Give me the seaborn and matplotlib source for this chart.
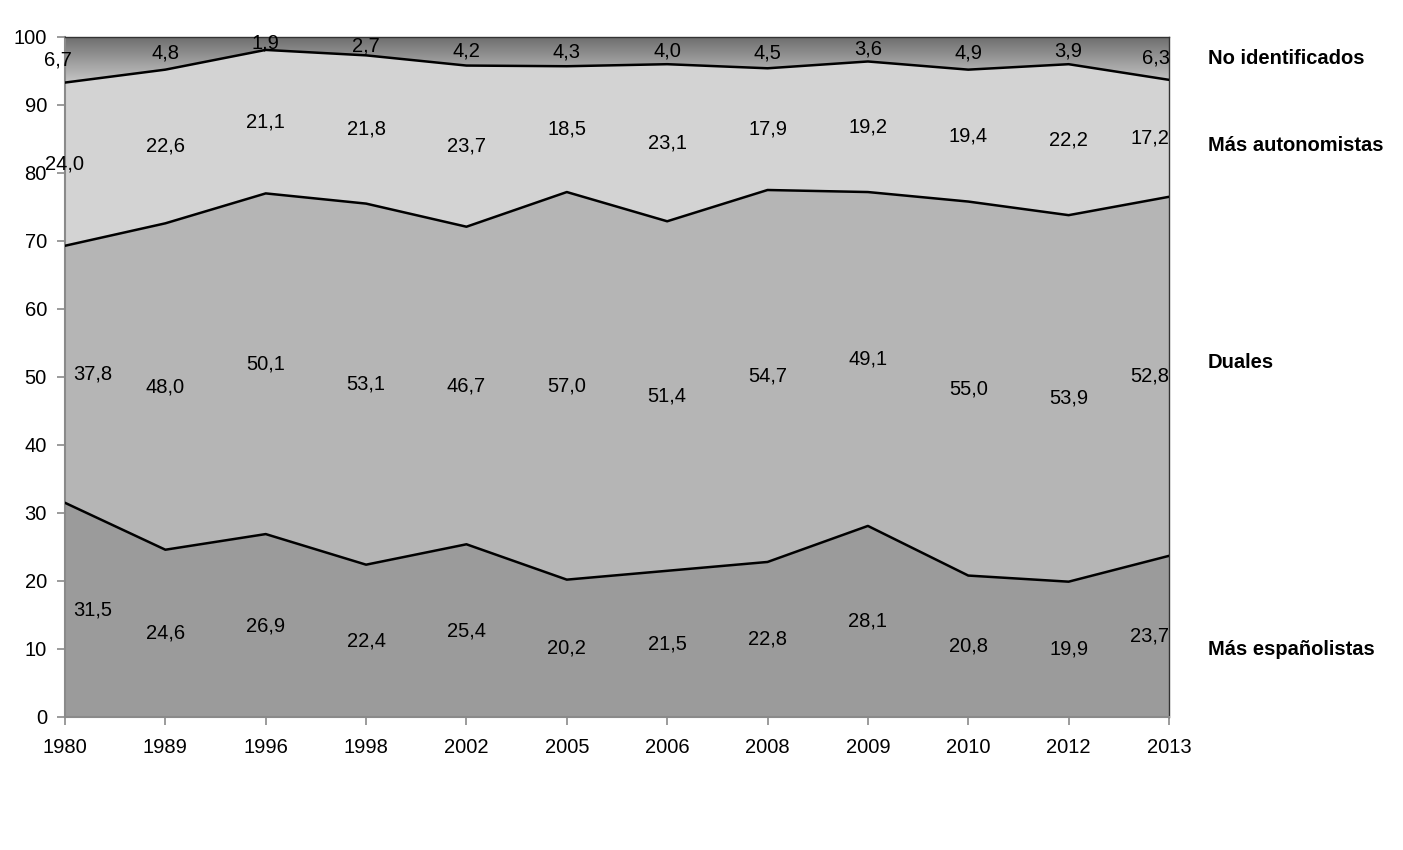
import numpy as np
import pandas as pd
import seaborn as sns
import matplotlib.pyplot as plt
from matplotlib.colors import LinearSegmentedColormap

years = ["1980", "1989", "1996", "1998", "2002", "2005", "2006", "2008", "2009", "2010", "2012", "2013"]
espanolistas = [31.5, 24.6, 26.9, 22.4, 25.4, 20.2, 21.5, 22.8, 28.1, 20.8, 19.9, 23.7]
duales = [37.8, 48.0, 50.1, 53.1, 46.7, 57.0, 51.4, 54.7, 49.1, 55.0, 53.9, 52.8]
autonomistas = [24.0, 22.6, 21.1, 21.8, 23.7, 18.5, 23.1, 17.9, 19.2, 19.4, 22.2, 17.2]
no_ident = [6.7, 4.8, 1.9, 2.7, 4.2, 4.3, 4.0, 4.5, 3.6, 4.9, 3.9, 6.3]
series_names = ["Más españolistas", "Duales", "Más autonomistas", "No identificados"]

sns.set_style("white")
plt.rcParams["font.family"] = ["Liberation Sans", "DejaVu Sans"]
plt.rcParams["text.color"] = "black"
plt.rcParams["xtick.labelcolor"] = "black"
plt.rcParams["ytick.labelcolor"] = "black"

x = np.arange(len(years))
series = [espanolistas, duales, autonomistas, no_ident]
cum = np.cumsum(np.array(series), axis=0)

fig = plt.figure(figsize=(14.03, 8.5), dpi=100)
ax = fig.add_axes([65 / 1403, 1 - 717 / 850, 1104 / 1403, 680 / 850])

polys = ax.stackplot(x, *series, colors=["#9b9b9b", "#b5b5b5", "#d3d3d3", "none"], linewidth=0)

# gradient for top band
cmap = LinearSegmentedColormap.from_list("g", ["#6c6c6c", "#e4e4e4"])
grad = np.linspace(0, 1, 256).reshape(-1, 1)
im = ax.imshow(grad, extent=[0, len(years) - 1, 91, 100], aspect="auto", cmap=cmap, origin="upper", zorder=1)
im.set_clip_path(polys[3].get_paths()[0], ax.transData)

# boundary lines
lines = pd.DataFrame({
    "x": np.tile(x, 3),
    "y": cum[:3].ravel(),
    "s": np.repeat(series_names[:3], len(x)),
})
sns.lineplot(data=lines, x="x", y="y", hue="s", palette=["black"] * 3, legend=False,
             linewidth=1.8, ax=ax, zorder=3)

# value labels
for i, vals in enumerate(series):
    base = cum[i] - np.array(vals)
    for j, v in enumerate(vals):
        xp = j
        if j == 0 and i < 2:
            xp += 0.28
        elif j == 0 and i == 3:
            xp -= 0.07
        elif j == len(years) - 1:
            xp -= 0.19 if i < 3 else 0.13
        ax.text(xp, base[j] + v / 2, f"{v:.1f}".replace(".", ","), ha="center", va="center",
                fontsize=14.5, color="black", zorder=4, clip_on=False)

# series labels on right
for name, yv in zip(series_names, [9.9, 52.1, 84.1, 96.8]):
    ax.text(1.035, yv, name, transform=ax.get_yaxis_transform(), ha="left", va="center",
            fontsize=14.5, fontweight="bold", color="black")

ax.set_xlim(0, len(years) - 1)
ax.set_ylim(0, 100)
ax.set_xticks(x)
ax.set_xticklabels(years)
ax.set_yticks(range(0, 101, 10))
ax.tick_params(axis="both", labelsize=14.5, direction="out", length=6, width=1.2,
               color="#8a8a8a", bottom=True, left=True)
ax.tick_params(axis="x", pad=9)
ax.tick_params(axis="y", pad=7)
ax.set_xlabel("")
ax.set_ylabel("")
for s in ["left", "bottom"]:
    ax.spines[s].set_color("#8a8a8a")
    ax.spines[s].set_linewidth(1.5)
for s in ["top", "right"]:
    ax.spines[s].set_color("#333333")
    ax.spines[s].set_linewidth(1.0)

fig.savefig("out.png", dpi=100)
